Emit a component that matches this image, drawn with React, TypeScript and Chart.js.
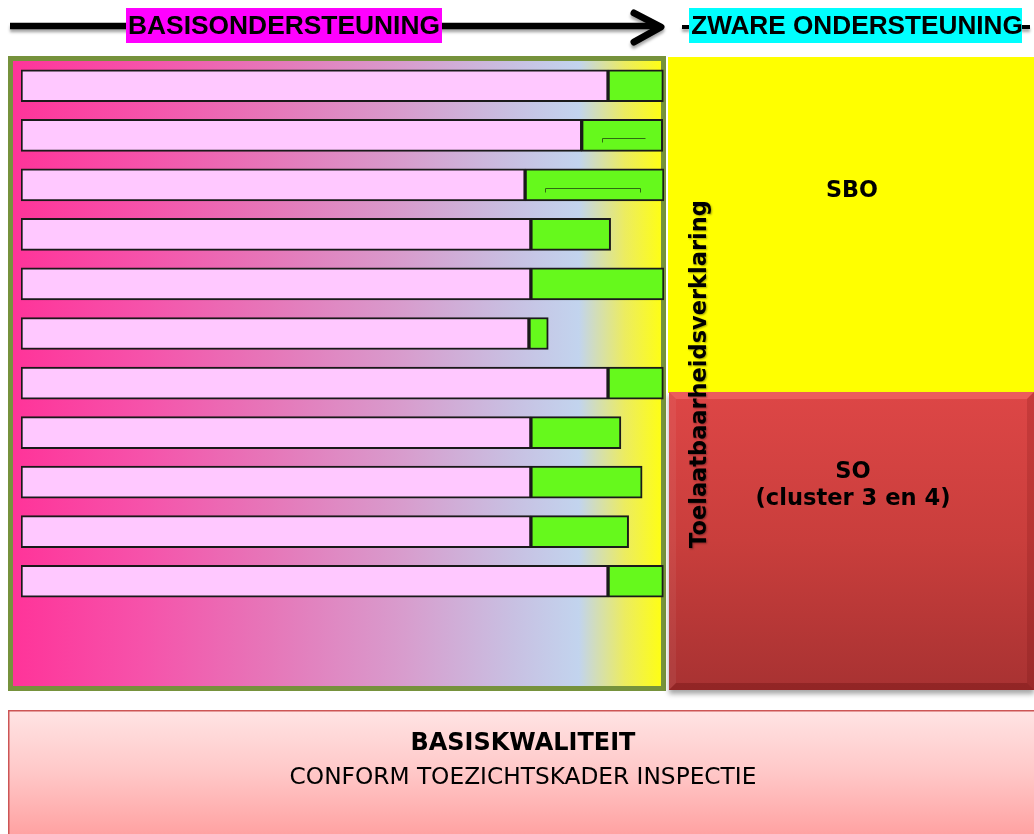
import React, { useEffect, useRef } from "react";
import { Chart, registerables } from "chart.js";
Chart.register(...registerables);

// ---- data ----
const rows = ["1", "2", "3", "4", "5", "6", "7", "8", "9", "10", "11"];
const basisValues = [91.3, 87.2, 78.4, 79.3, 79.3, 79.0, 91.3, 79.3, 79.3, 79.3, 91.3];
const extraValues = [8.6, 12.6, 21.6, 12.4, 20.7, 3.0, 8.6, 14.0, 17.3, 15.2, 8.6];
const bracketRows = [1, 2];
const bracketStart = [90.4, 81.5];
const bracketEnd = [97.0, 96.3];
const bracketBothTicks = [false, true];

const headerLeft = "BASISONDERSTEUNING";
const headerRight = "ZWARE ONDERSTEUNING";
const sboLabel = "SBO";
const soLabel = ["SO", "(cluster 3 en 4)"];
const verticalLabel = "Toelaatbaarheidsverklaring";
const baseTitle = "BASISKWALITEIT";
const baseSub = "CONFORM TOEZICHTSKADER INSPECTIE";

const W = 1034;
const H = 834;

function fitFont(ctx: CanvasRenderingContext2D, text: string, family: string, weight: string, target: number) {
  ctx.font = `${weight} 100px ${family}`;
  const w = ctx.measureText(text).width;
  const size = (100 * target) / w;
  ctx.font = `${weight} ${size}px ${family}`;
  return size;
}

const diagramPlugin = {
  id: "diagram",
  beforeDraw(chart: any) {
    const ctx: CanvasRenderingContext2D = chart.ctx;
    ctx.save();
    ctx.fillStyle = "#ffffff";
    ctx.fillRect(0, 0, W, H);

    // ---- top arrow ----
    ctx.save();
    ctx.shadowColor = "rgba(0,0,0,0.35)";
    ctx.shadowBlur = 3;
    ctx.shadowOffsetY = 3;
    ctx.strokeStyle = "#000";
    ctx.lineWidth = 6.5;
    ctx.lineCap = "butt";
    ctx.beginPath();
    ctx.moveTo(10, 26);
    ctx.lineTo(656, 26);
    ctx.stroke();
    ctx.lineWidth = 7;
    ctx.lineCap = "round";
    ctx.lineJoin = "round";
    ctx.beginPath();
    ctx.moveTo(634, 13);
    ctx.lineTo(661, 27);
    ctx.lineTo(634, 42);
    ctx.stroke();
    ctx.lineWidth = 4;
    ctx.lineCap = "butt";
    ctx.beginPath();
    ctx.moveTo(682, 27);
    ctx.lineTo(690, 27);
    ctx.moveTo(1021, 27);
    ctx.lineTo(1030, 27);
    ctx.stroke();
    ctx.restore();

    // header labels
    ctx.fillStyle = "#ff00ff";
    ctx.fillRect(126, 8, 316, 35);
    ctx.fillStyle = "#00ffff";
    ctx.fillRect(689, 8, 333, 35);
    ctx.fillStyle = "#000";
    ctx.textAlign = "center";
    ctx.textBaseline = "middle";
    fitFont(ctx, headerLeft, "'Liberation Sans', Arial, sans-serif", "bold", 312);
    ctx.fillText(headerLeft, 284, 27);
    fitFont(ctx, headerRight, "'Liberation Sans', Arial, sans-serif", "bold", 332);
    ctx.fillText(headerRight, 857, 27);

    // ---- left gradient box ----
    const g = ctx.createLinearGradient(10, 0, 664, 0);
    g.addColorStop(0, "#ff3399");
    g.addColorStop(0.2, "#f652aa");
    g.addColorStop(0.4, "#e677b9");
    g.addColorStop(0.6, "#d89ccd");
    g.addColorStop(0.77, "#c8c0e2");
    g.addColorStop(0.87, "#c2d4ee");
    g.addColorStop(0.94, "#ecec60");
    g.addColorStop(1, "#ffff10");
    ctx.fillStyle = g;
    ctx.fillRect(10, 58, 654, 631);
    ctx.strokeStyle = "#76923c";
    ctx.lineWidth = 5;
    ctx.strokeRect(10.5, 58.5, 653, 630);

    // ---- yellow SBO box ----
    ctx.fillStyle = "#ffff00";
    ctx.fillRect(668, 57, W - 668, 336);

    // ---- red SO box ----
    ctx.save();
    ctx.shadowColor = "rgba(0,0,0,0.35)";
    ctx.shadowBlur = 5;
    ctx.shadowOffsetY = 4;
    const rg = ctx.createLinearGradient(0, 392, 0, 690);
    rg.addColorStop(0, "#dd4646");
    rg.addColorStop(0.5, "#c93e3c");
    rg.addColorStop(1, "#a83232");
    ctx.fillStyle = rg;
    ctx.fillRect(669, 392, W - 669, 298);
    ctx.restore();
    const bx0 = 669, by0 = 392, bx1 = W, by1 = 690, b = 7;
    ctx.fillStyle = "rgba(255,120,120,0.45)";
    ctx.beginPath();
    ctx.moveTo(bx0, by0); ctx.lineTo(bx1, by0); ctx.lineTo(bx1 - b, by0 + b); ctx.lineTo(bx0 + b, by0 + b); ctx.closePath();
    ctx.fill();
    ctx.fillStyle = "rgba(255,255,255,0.06)";
    ctx.beginPath();
    ctx.moveTo(bx0, by0); ctx.lineTo(bx0 + b, by0 + b); ctx.lineTo(bx0 + b, by1 - b); ctx.lineTo(bx0, by1); ctx.closePath();
    ctx.fill();
    ctx.fillStyle = "rgba(80,0,0,0.25)";
    ctx.beginPath();
    ctx.moveTo(bx0, by1); ctx.lineTo(bx1, by1); ctx.lineTo(bx1 - b, by1 - b); ctx.lineTo(bx0 + b, by1 - b); ctx.closePath();
    ctx.fill();
    ctx.fillStyle = "rgba(80,0,0,0.15)";
    ctx.beginPath();
    ctx.moveTo(bx1, by0); ctx.lineTo(bx1, by1); ctx.lineTo(bx1 - b, by1 - b); ctx.lineTo(bx1 - b, by0 + b); ctx.closePath();
    ctx.fill();

    // texts in boxes
    ctx.fillStyle = "#000";
    fitFont(ctx, sboLabel, "'DejaVu Sans', Verdana, sans-serif", "bold", 52);
    ctx.fillText(sboLabel, 852, 191);
    const fs = fitFont(ctx, soLabel[1], "'DejaVu Sans', Verdana, sans-serif", "bold", 195);
    ctx.fillText(soLabel[1], 853, 499);
    ctx.font = `bold ${fs}px 'DejaVu Sans', Verdana, sans-serif`;
    ctx.fillText(soLabel[0], 853, 472);

    // ---- bottom basis box ----
    const pg = ctx.createLinearGradient(0, 710, 0, 834);
    pg.addColorStop(0, "#ffe4e4");
    pg.addColorStop(0.5, "#ffc8c8");
    pg.addColorStop(1, "#ffa2a2");
    ctx.fillStyle = pg;
    ctx.fillRect(8, 710, W - 8, H - 710);
    ctx.strokeStyle = "#cc5555";
    ctx.lineWidth = 1.5;
    ctx.beginPath();
    ctx.moveTo(8.75, H);
    ctx.lineTo(8.75, 710.75);
    ctx.lineTo(W, 710.75);
    ctx.stroke();
    ctx.fillStyle = "#000";
    fitFont(ctx, baseTitle, "'DejaVu Sans', Verdana, sans-serif", "bold", 225);
    ctx.fillText(baseTitle, 523, 744);
    fitFont(ctx, baseSub, "'DejaVu Sans', Verdana, sans-serif", "normal", 467);
    ctx.fillText(baseSub, 523, 778);

    ctx.restore();
  },
  afterDraw(chart: any) {
    const ctx: CanvasRenderingContext2D = chart.ctx;
    const xs = chart.scales.x;
    const meta = chart.getDatasetMeta(1);
    ctx.save();
    ctx.strokeStyle = "#2e6b12";
    ctx.lineWidth = 1;
    bracketRows.forEach((r, i) => {
      const el = meta.data[r];
      const y = Math.round(el.y + 3) + 0.5;
      const x0 = Math.round(xs.getPixelForValue(bracketStart[i])) + 0.5;
      const x1 = Math.round(xs.getPixelForValue(bracketEnd[i])) + 0.5;
      ctx.beginPath();
      ctx.moveTo(x0, y + 4);
      ctx.lineTo(x0, y);
      ctx.lineTo(x1, y);
      if (bracketBothTicks[i]) ctx.lineTo(x1, y + 4);
      ctx.stroke();
    });

    ctx.translate(700, 374);
    ctx.rotate(-Math.PI / 2);
    ctx.textAlign = "center";
    ctx.textBaseline = "middle";
    fitFont(ctx, verticalLabel, "'DejaVu Sans', Verdana, sans-serif", "bold", 348);
    ctx.shadowColor = "rgba(0,0,0,0.35)";
    ctx.shadowBlur = 2;
    ctx.shadowOffsetX = 1;
    ctx.shadowOffsetY = 1;
    ctx.fillStyle = "#000";
    ctx.fillText(verticalLabel, 0, 0);
    ctx.restore();
  },
};

export default function App() {
  const ref = useRef<HTMLCanvasElement | null>(null);
  useEffect(() => {
    if (!ref.current) return;
    const chart = new Chart(ref.current, {
      type: "bar",
      data: {
        labels: rows,
        datasets: [
          {
            label: "basis",
            data: basisValues,
            backgroundColor: "#ffc8ff",
            borderColor: "#1a1a1a",
            borderWidth: 2,
            borderSkipped: false,
            barThickness: 32,
          },
          {
            label: "extra",
            data: extraValues,
            backgroundColor: "#66f91c",
            borderColor: "#1a1a1a",
            borderWidth: 2,
            borderSkipped: false,
            barThickness: 32,
          },
        ],
      },
      options: {
        indexAxis: "y",
        responsive: false,
        animation: false,
        events: [],
        layout: { padding: { left: 21, right: W - 664, top: 61, bottom: 228 } },
        plugins: { legend: { display: false }, tooltip: { enabled: false } },
        scales: {
          x: { stacked: true, min: 0, max: 100, display: false },
          y: { stacked: true, display: false },
        },
      },
      plugins: [diagramPlugin],
    });
    return () => chart.destroy();
  }, []);
  return (
    <div style={{ position: "fixed", left: 0, top: 0, width: W, height: H }}>
      <canvas ref={ref} width={W} height={H} style={{ display: "block", width: W, height: H }} />
    </div>
  );
}
